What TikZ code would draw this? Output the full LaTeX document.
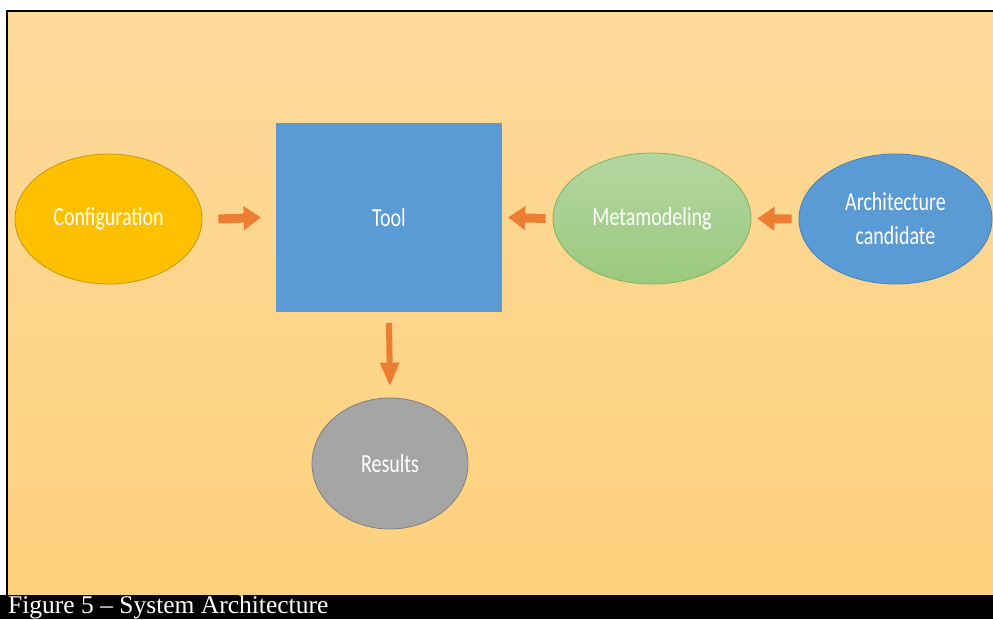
\documentclass[tikz,border=0pt]{standalone}
\usepackage{fontspec}
\usepackage{graphicx}
\setmainfont{Liberation Serif}
\newfontfamily\slidefont{Carlito}
\usetikzlibrary{arrows.meta,shapes.geometric}

\definecolor{bgtop}{HTML}{FDD99B}
\definecolor{bgbot}{HTML}{FED17D}
\definecolor{arrowc}{HTML}{ED7D31}
\definecolor{goldfill}{HTML}{FFC000}
\definecolor{goldline}{HTML}{C49A14}
\definecolor{bluefill}{HTML}{5B9BD5}
\definecolor{blueline}{HTML}{4A7FB3}
\definecolor{greentop}{HTML}{B4D6A3}
\definecolor{greenbot}{HTML}{9BC97D}
\definecolor{greenline}{HTML}{7DB65A}
\definecolor{greyfill}{HTML}{A5A5A5}
\definecolor{greyline}{HTML}{808080}

% slide lettering is stretched vertically
\newcommand\tallt[1]{\scalebox{1}[1.3]{#1}}

\begin{document}
\begin{tikzpicture}[x=1pt,y=-1pt,
  oval/.style={ellipse, inner sep=0pt, line width=0.8pt, text=white,
    font=\slidefont\fontsize{20}{34}\selectfont, align=center},
  barrow/.style={draw=arrowc, line width=9pt,
    -{Triangle[length=17pt,width=23pt]}},
  varrow/.style={draw=arrowc, line width=6pt,
    -{Triangle[length=24pt,width=18pt]}},
]
\useasboundingbox (0,0) rectangle (993,619);
\clip (0,0) rectangle (993,619);
\fill[white] (0,0) rectangle (993,619);

% slide background with its frame
\shade[top color=bgtop, bottom color=bgbot] (7,11) rectangle (993,595);
\draw[line width=2pt] (7,595) -- (7,11) -- (993,11);

% caption band
\fill[black] (0,595) rectangle (993,619);
\node[anchor=base west, text=white, inner sep=0pt,
  font=\fontsize{25.5}{30}\selectfont] (cap) at (8,613.8)
  {Figure 5 – System Architecture};

% boxes
\node[rectangle, fill=bluefill, minimum width=226pt, minimum height=189pt,
  inner sep=0pt, text=white, font=\slidefont\fontsize{20}{24}\selectfont]
  (tool) at (389,217.5) {\tallt{Tool}};
\node[oval, fill=goldfill, draw=goldline, minimum width=187pt,
  minimum height=130pt] (cfg) at (108.5,219) {\tallt{Configuration}};
\node[oval, top color=greentop, bottom color=greenbot, draw=greenline,
  minimum width=198pt, minimum height=131pt] (meta) at (652,218.5)
  {\tallt{Metamodeling}};
\node[oval, fill=bluefill, draw=blueline, minimum width=193pt,
  minimum height=130pt] (arch) at (895.5,219)
  {\tallt{Architecture}\\\tallt{candidate}};
\node[oval, fill=greyfill, draw=greyline, minimum width=156pt,
  minimum height=131pt] (res) at (390,463.5) {\tallt{Results}};

% block arrows
\draw[barrow] ([xshift=16pt]cfg.east) -- ([xshift=-15pt]tool.west);
\draw[barrow] ([xshift=-7pt]meta.west) -- ([xshift=6pt]tool.east);
\draw[barrow] ([xshift=-7pt]arch.west) -- ([xshift=6pt]meta.east);
\draw[varrow] ([yshift=-11pt]tool.south) -- ([yshift=11pt]res.north);
\end{tikzpicture}
\end{document}
